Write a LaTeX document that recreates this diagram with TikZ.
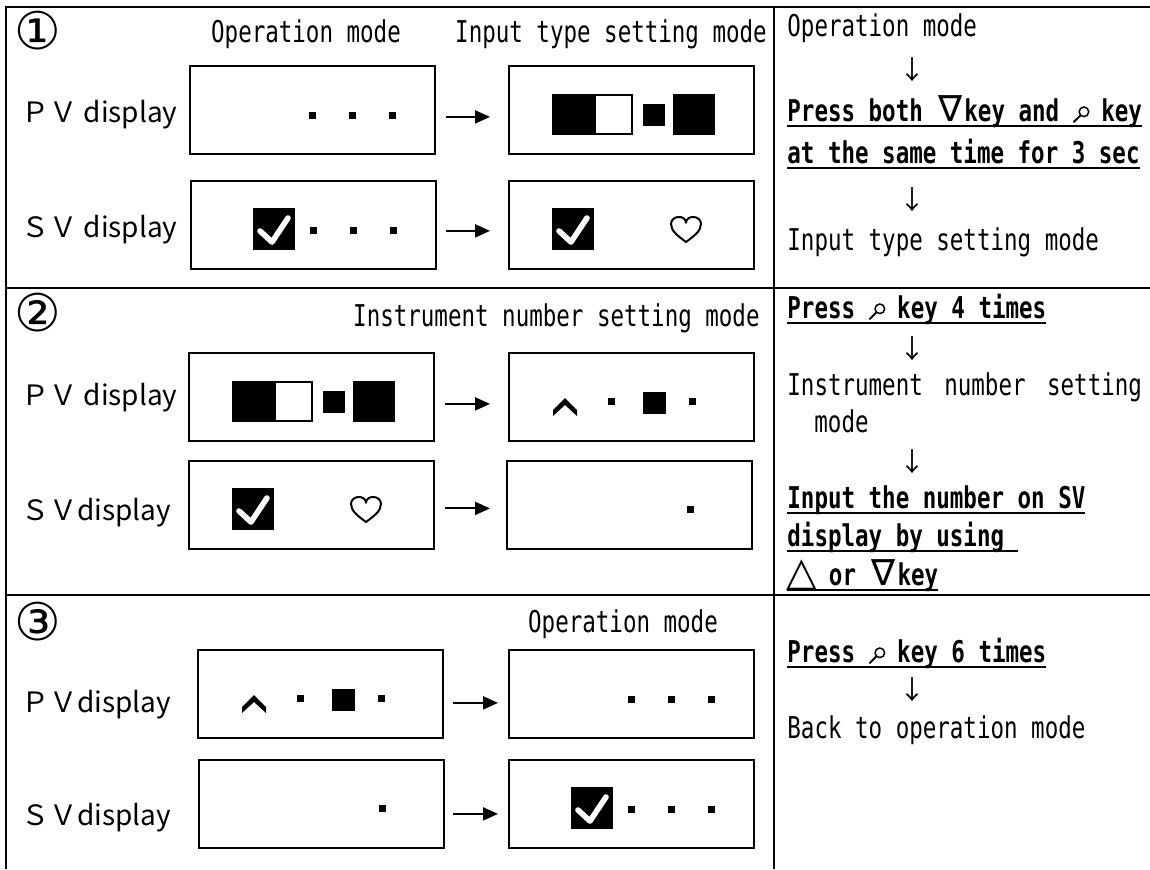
\documentclass[tikz,border=0pt]{standalone}
\usepackage{fontspec}
\usetikzlibrary{arrows.meta}
\newfontfamily\mono[FakeStretch=0.75]{DejaVu Sans Mono}
\newfontfamily\djs{DejaVu Sans}
\newfontfamily\jpf{Noto Sans CJK JP}
\newsavebox\ulbox
\newcommand\ul[1]{\leavevmode\sbox\ulbox{#1}\rlap{\rule[-3.1pt]{\wd\ulbox}{1pt}}\usebox\ulbox}
\newcommand\srch{\makebox[7.5pt][l]{\tikz[baseline=0pt,x=1pt,y=1pt]{\draw[line width=0.75pt] (5.5pt,4.6pt) circle (2.4pt); \draw[line width=0.95pt,line cap=round] (3.8pt,2.8pt) -- (0.4pt,-0.5pt);}}}
\newcommand\wide[2]{\makebox[14pt]{\djs\mdseries\fontsize{#1}{#1}\selectfont #2}}
% display contents (coordinates in px from the box's top-left corner)
\newcommand\cDots{\foreach \xx in {123,163,203}{\fill (\xx-3.5,46.5) rectangle (\xx+3.5,53.5);}}
\newcommand\cCheck[1]{\fill (#1,28) rectangle (#1+42,70); \draw[white,line width=2.8pt,line cap=round,line join=round] (#1+7,51) -- (#1+19,62) -- (#1+35,38);}
\newcommand\cHeart{\draw[line width=1pt] (178,62) .. controls (170,56) and (163,51) .. (163,44) .. controls (163,36) and (176,34) .. (178,42) .. controls (180,34) and (193,36) .. (193,44) .. controls (193,51) and (186,56) .. (178,62) -- cycle;}
\newcommand\cBlocks{\fill (44,29) rectangle (87,70); \draw[line width=1pt] (87,30) rectangle (124,69); \fill (135,39) rectangle (157,61); \fill (165,29) rectangle (207,70);}
\newcommand\cChev{\fill (45,58) -- (57,46) -- (69,58) -- (69,64) -- (57,53) -- (45,64) -- cycle; \fill (100,46) rectangle (107,53); \fill (135,40) rectangle (158,62); \fill (180.5,46) rectangle (187.5,53);}
\newcommand\cDot{\fill (180.5,45.5) rectangle (187.5,52.5);}
\tikzset{
 gridline/.style={line width=1.3pt},
 disp/.style={draw, line width=0.9pt, rectangle, minimum width=122.5pt, minimum height=44pt, inner sep=0pt, anchor=north west},
 arr/.style={line width=1pt, -{Triangle[length=7.5pt,width=6.5pt]}},
 txt/.style={inner sep=0pt, font=\mono\fontsize{15pt}{18pt}\selectfont},
 btxt/.style={inner sep=0pt, font=\mono\bfseries\fontsize{15pt}{18pt}\selectfont},
 lab/.style={inner sep=0pt, anchor=base west, font=\jpf\fontsize{14pt}{17pt}\selectfont},
 num/.style={inner sep=0pt, font=\djs\fontsize{26pt}{30pt}\selectfont},
 dn/.style={inner sep=0pt, font=\jpf\fontsize{13pt}{16pt}\selectfont},
}
\begin{document}
\begin{tikzpicture}[x=0.5pt,y=-0.5pt]
\useasboundingbox (0,0) rectangle (1150,869);
% table lines
\draw[gridline] (6,869) -- (6,7) -- (1150,7);
\draw[gridline] (774,7) -- (774,869);
\draw[gridline] (6,288) -- (1150,288);
\draw[gridline] (6,595) -- (1150,595);
% step numbers
\node[num] (n1) at (38,31) {①};
\node[num] (n2) at (38,313) {②};
\node[num] (n3) at (38,622) {③};
% headers
\node[txt, anchor=base] (h1a) at (306,42) {Operation mode};
\node[txt, anchor=base] (h1b) at (611,42) {Input type setting mode};
\node[txt, anchor=base east] (h2) at (760,326) {Instrument number setting mode};
\node[txt, anchor=base] (h3) at (623,632) {Operation mode};
% row labels
\node[lab] (l1p) at (21,122) {ＰＶ display};
\node[lab] (l1s) at (21,237) {ＳＶ display};
\node[lab] (l2p) at (21,405) {ＰＶ display};
\node[lab] (l2s) at (21,520) {ＳＶdisplay};
\node[lab] (l3p) at (21,712) {ＰＶdisplay};
\node[lab] (l3s) at (21,825) {ＳＶdisplay};
% display boxes
\node[disp] (r1pA) at (189,65) {};
\node[disp] (r1pB) at (508,65) {};
\node[disp] (r1sA) at (190,180) {};
\node[disp] (r1sB) at (508,180) {};
\node[disp] (r2pA) at (188,352) {};
\node[disp] (r2pB) at (508,352) {};
\node[disp] (r2sA) at (188,460) {};
\node[disp] (r2sB) at (506,460) {};
\node[disp] (r3pA) at (197,649) {};
\node[disp] (r3pB) at (508,649) {};
\node[disp] (r3sA) at (198,759) {};
\node[disp] (r3sB) at (508,759) {};
% display contents
\begin{scope}[shift={(r1pA.north west)}]\cDots\end{scope}
\begin{scope}[shift={(r1pB.north west)}]\cBlocks\end{scope}
\begin{scope}[shift={(r1sA.north west)}]\cCheck{63}\cDots\end{scope}
\begin{scope}[shift={(r1sB.north west)}]\cCheck{44}\cHeart\end{scope}
\begin{scope}[shift={(r2pA.north west)}]\cBlocks\end{scope}
\begin{scope}[shift={(r2pB.north west)}]\cChev\end{scope}
\begin{scope}[shift={(r2sA.north west)}]\cCheck{44}\cHeart\end{scope}
\begin{scope}[shift={(r2sB.north west)}]\cDot\end{scope}
\begin{scope}[shift={(r3pA.north west)}]\cChev\end{scope}
\begin{scope}[shift={(r3pB.north west)}]\cDots\end{scope}
\begin{scope}[shift={(r3sA.north west)}]\cDot\end{scope}
\begin{scope}[shift={(r3sB.north west)}]\cCheck{63}\cDots\end{scope}
% arrows
\draw[arr, shorten <=5pt, shorten >=9pt] ([yshift=-3.5pt]r1pA.east) -- ([yshift=-3.5pt]r1pB.west);
\draw[arr, shorten <=4.5pt, shorten >=9pt] ([yshift=-3pt]r1sA.east) -- ([yshift=-3pt]r1sB.west);
\draw[arr, shorten <=5pt, shorten >=9pt] ([yshift=-3.5pt]r2pA.east) -- ([yshift=-3.5pt]r2pB.west);
\draw[arr, shorten <=5pt, shorten >=8pt] ([yshift=-1.75pt]r2sA.east) -- ([yshift=-1.75pt]r2sB.west);
\draw[arr, shorten <=4.5pt, shorten >=5pt] ([yshift=-4.5pt]r3pA.east) -- ([yshift=-4.5pt]r3pB.west);
\draw[arr, shorten <=4pt, shorten >=5pt] ([yshift=-5pt]r3sA.east) -- ([yshift=-5pt]r3sB.west);
% right column, step 1
\node[txt, anchor=base west] (t1a) at (787,36) {Operation mode};
\node[dn] (d1a) at (912,70) {↓};
\node[btxt, anchor=base west] (t1b) at (787,121) {\ul{Press both \wide{18pt}{∇}key and \srch\ key}};
\node[btxt, anchor=base west] (t1c) at (787,163) {\ul{at the same time for 3 sec}};
\node[dn] (d1b) at (912,200) {↓};
\node[txt, anchor=base west] (t1d) at (787,250) {Input type setting mode};
% right column, step 2
\node[btxt, anchor=base west] (t2a) at (787,318) {\ul{Press \srch\ key 4 times}};
\node[dn] (d2a) at (912,349) {↓};
\node[txt, anchor=base west] (t2b) at (787,395) {Instrument\hspace{10.75pt}number\hspace{10.75pt}setting};
\node[txt, anchor=base west] (t2c) at (814,432) {mode};
\node[dn] (d2b) at (912,462) {↓};
\node[btxt, anchor=base west] (t2d) at (787,508) {\ul{Input the number on SV}};
\node[btxt, anchor=base west] (t2e) at (787,546) {\ul{display by using\ }};
\node[btxt, anchor=base west] (t2f) at (787,585) {\ul{\wide{20pt}{△} or \wide{18pt}{∇}key}};
% right column, step 3
\node[btxt, anchor=base west] (t3a) at (787,662) {\ul{Press \srch\ key 6 times}};
\node[dn] (d3a) at (912,690) {↓};
\node[txt, anchor=base west] (t3b) at (787,738) {Back to operation mode};
\end{tikzpicture}
\end{document}
